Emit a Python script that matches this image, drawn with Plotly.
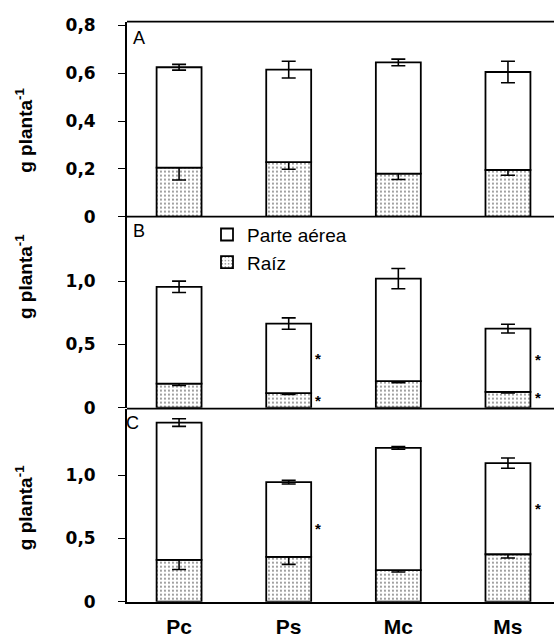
import plotly.graph_objects as go

categories = ["Pc", "Ps", "Mc", "Ms"]

# Panel A
a_total = [0.625, 0.615, 0.645, 0.605]
a_total_err = [0.012, 0.035, 0.014, 0.045]
a_raiz = [0.205, 0.228, 0.180, 0.195]
a_raiz_err = [0.052, 0.030, 0.025, 0.022]

# Panel B
b_total = [0.955, 0.665, 1.020, 0.625]
b_total_err = [0.045, 0.045, 0.080, 0.035]
b_raiz = [0.190, 0.115, 0.210, 0.125]
b_raiz_err = [0.015, 0.010, 0.012, 0.008]

# Panel C
c_total = [1.415, 0.945, 1.215, 1.095]
c_total_err = [0.030, 0.015, 0.010, 0.040]
c_raiz = [0.330, 0.355, 0.250, 0.375]
c_raiz_err = [0.075, 0.060, 0.015, 0.030]

# significance marks (category, value)
b_star_cat = ["Ps", "Ps", "Ms", "Ms"]
b_star_val = [0.42, 0.09, 0.41, 0.11]
c_star_cat = ["Ps", "Ms"]
c_star_val = [0.61, 0.77]

a_ticks = [0, 0.2, 0.4, 0.6, 0.8]
a_ticktext = ["0", "0,2", "0,4", "0,6", "0,8"]
bc_ticks = [0, 0.5, 1.0]
bc_ticktext = ["0", "0,5", "1,0"]

panel_letters = ["A", "B", "C"]
y_title = "g planta<sup>-1</sup>"

FONT = "Liberation Sans, Arial, sans-serif"
TICKFONT = "DejaVu Sans, sans-serif"
H = 641.0
LEFT = 127
W_PLOT = 554 - LEFT

fig = go.Figure()

panels = [
    (a_total, a_total_err, a_raiz, a_raiz_err, "y3"),
    (b_total, b_total_err, b_raiz, b_raiz_err, "y2"),
    (c_total, c_total_err, c_raiz, c_raiz_err, "y"),
]

cat_idx = {c: i for i, c in enumerate(categories)}

for k, (tot, tot_err, raiz, raiz_err, yax) in enumerate(panels):
    showleg = (k == 1)
    fig.add_trace(go.Bar(
        x=categories, y=raiz, yaxis=yax, xaxis="x",
        name="Raíz", legendrank=2, showlegend=showleg,
        width=0.41,
        marker=dict(color="white", line=dict(color="black", width=1.8),
                    pattern=dict(shape=".", fgcolor="black", bgcolor="white",
                                 size=4, solidity=0.18)),
        error_y=dict(type="data", array=raiz_err, color="black",
                     thickness=1.6, width=7),
    ))
    aerea = [t - r for t, r in zip(tot, raiz)]
    fig.add_trace(go.Bar(
        x=categories, y=aerea, base=raiz, yaxis=yax, xaxis="x",
        name="Parte aérea", legendrank=1, showlegend=showleg,
        width=0.41,
        marker=dict(color="white", line=dict(color="black", width=1.8)),
        error_y=dict(type="data", array=tot_err, color="black",
                     thickness=1.6, width=7),
    ))

def frac(px):
    return 1 - px / H

def xfrac(px):
    return (px - LEFT) / W_PLOT

tickfont = dict(family=TICKFONT, size=17, color="black", weight="bold")

common_y = dict(
    showline=True, linecolor="black", linewidth=1.8,
    ticks="outside", ticklen=7, tickwidth=1.2, tickcolor="black",
    ticklabelstandoff=19,
    showgrid=False, zeroline=False, tickfont=tickfont,
    anchor="x", fixedrange=True,
)

fig.update_layout(
    width=554, height=641,
    margin=dict(l=LEFT, r=0, t=0, b=0, pad=0),
    paper_bgcolor="white", plot_bgcolor="white",
    barmode="overlay",
    showlegend=True,
    legend=dict(x=xfrac(207), y=frac(215), xanchor="left", yanchor="top",
                traceorder="normal", tracegroupgap=4, itemwidth=30,
                font=dict(family=FONT, size=19, color="black"),
                bgcolor="rgba(0,0,0,0)"),
    xaxis=dict(domain=[0, 1], range=[-0.475, 3.42], showline=True, linecolor="black",
               linewidth=1.8, ticks="", ticklabelstandoff=5,
               tickfont=dict(family=FONT, size=21, color="black", weight="bold"),
               showgrid=False, zeroline=False, anchor="y", fixedrange=True),
    yaxis=dict(domain=[frac(611), frac(413)], range=[0, 1.525],
               tickvals=bc_ticks, ticktext=bc_ticktext, **common_y),
    yaxis2=dict(domain=[frac(412), frac(216)], range=[0, 1.51],
                tickvals=bc_ticks, ticktext=bc_ticktext, **common_y),
    yaxis3=dict(domain=[frac(216), frac(16)], range=[0, 0.816],
                tickvals=a_ticks, ticktext=a_ticktext, **common_y),
)

# horizontal frame lines between panels
shapes = []
for ydom_px in [16, 216, 413]:
    shapes.append(dict(type="line", xref="paper", yref="paper", x0=0, x1=1,
                       y0=frac(ydom_px), y1=frac(ydom_px),
                       line=dict(color="black", width=1.8)))
fig.update_layout(shapes=shapes)

annotations = []
# y-axis titles
for ypx in [128, 278, 515]:
    annotations.append(dict(text=y_title, xref="paper", yref="paper",
                            x=xfrac(24), y=frac(ypx), xanchor="center", yanchor="middle",
                            textangle=-90, showarrow=False,
                            font=dict(family=FONT, size=19, color="black", weight="bold")))
# panel letters
for letter, xpx, ypx in zip(panel_letters, [131, 131, 124], [20, 218, 415]):
    annotations.append(dict(text=letter, xref="paper", yref="paper",
                            x=xfrac(xpx), y=frac(ypx), xanchor="left", yanchor="top",
                            showarrow=False,
                            font=dict(family=FONT, size=18, color="black")))
for cat, val in zip(b_star_cat, b_star_val):
    annotations.append(dict(text="*", x=cat_idx[cat] + 0.27, y=val, xref="x", yref="y2",
                            showarrow=False, xanchor="center", yanchor="middle", yshift=-4,
                            font=dict(family=FONT, size=15, color="black", weight="bold")))
for cat, val in zip(c_star_cat, c_star_val):
    annotations.append(dict(text="*", x=cat_idx[cat] + 0.27, y=val, xref="x", yref="y",
                            showarrow=False, xanchor="center", yanchor="middle", yshift=-4,
                            font=dict(family=FONT, size=15, color="black", weight="bold")))
fig.update_layout(annotations=annotations)

fig.write_html("out.html", config={"displayModeBar": False},
               post_script="document.body.style.margin='0';document.body.style.overflow='hidden';")
